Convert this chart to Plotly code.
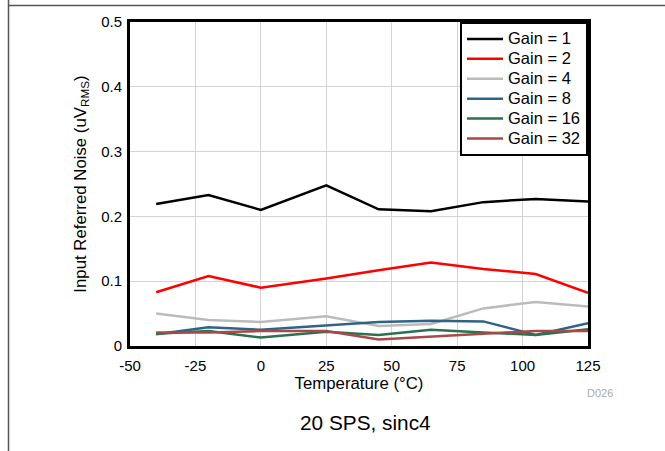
import plotly.graph_objects as go

temps = [-40, -20, 0, 25, 45, 65, 85, 105, 125]
gain1 = [0.219, 0.233, 0.210, 0.248, 0.211, 0.208, 0.222, 0.227, 0.223]
gain2 = [0.083, 0.108, 0.090, 0.104, 0.117, 0.129, 0.119, 0.111, 0.082]
gain4 = [0.050, 0.040, 0.037, 0.046, 0.031, 0.034, 0.058, 0.068, 0.061]
gain8 = [0.018, 0.029, 0.025, 0.032, 0.037, 0.039, 0.038, 0.017, 0.035]
gain16 = [0.019, 0.023, 0.013, 0.022, 0.017, 0.025, 0.021, 0.017, 0.026]
gain32 = [0.021, 0.021, 0.023, 0.023, 0.010, 0.015, 0.019, 0.023, 0.023]

x_ticks = [-50, -25, 0, 25, 50, 75, 100, 125]
x_ticktext = ["-50", "-25", "0", "25", "50", "75", "100", "125"]
y_ticks = [0, 0.1, 0.2, 0.3, 0.4, 0.5]
y_ticktext = ["0", "0.1", "0.2", "0.3", "0.4", "0.5"]

series = [
    ("Gain = 1", gain1, "#000000"),
    ("Gain = 2", gain2, "#FF0000"),
    ("Gain = 4", gain4, "#BBBBBB"),
    ("Gain = 8", gain8, "#2E6485"),
    ("Gain = 16", gain16, "#2D7050"),
    ("Gain = 32", gain32, "#A84848"),
]

FONT = "Liberation Sans, Arial, sans-serif"

fig = go.Figure()
for name, vals, color in series:
    fig.add_trace(go.Scatter(
        x=temps, y=vals, mode="lines",
        name="<span style='font-size:16.5px'>" + name + "</span>",
        line=dict(color=color, width=2.5)))

L, R, T, B = 130, 588, 22, 346
W, H = 665, 451

def px(x):
    return (x - L) / (R - L)

def py(y):
    return (B - y) / (B - T)

fig.update_layout(
    width=W, height=H,
    margin=dict(l=L, r=W - R, t=T, b=H - B),
    plot_bgcolor="white", paper_bgcolor="white",
    font=dict(family=FONT, size=15, color="#000000"),
    showlegend=True,
    legend=dict(x=1, y=1, xanchor="right", yanchor="top",
                bordercolor="#000000", borderwidth=2, bgcolor="white",
                font=dict(size=13, family=FONT), tracegroupgap=0,
                itemwidth=36),
    xaxis=dict(range=[-50, 125], tickvals=x_ticks, ticktext=x_ticktext,
               showgrid=True, gridcolor="#D3D3D3", gridwidth=1,
               showline=True, linecolor="#000000", linewidth=3, mirror=True,
               zeroline=False, ticks="", ticklabelstandoff=4,
               tickfont=dict(size=15),
               title=dict(text="Temperature (°C)", font=dict(size=16.8), standoff=0)),
    yaxis=dict(range=[0, 0.5], tickvals=y_ticks, ticktext=y_ticktext,
               showgrid=True, gridcolor="#D3D3D3", gridwidth=1,
               showline=True, linecolor="#000000", linewidth=3, mirror=True,
               zeroline=False, ticks="", ticklabelstandoff=2,
               tickfont=dict(size=15),
               title=dict(text="Input Referred Noise (uV<sub>RMS</sub>)",
                          font=dict(size=16.8), standoff=11)),
    shapes=[
        dict(type="line", xref="paper", yref="paper", x0=px(8.5), x1=px(8.5),
             y0=py(0), y1=py(451), line=dict(color="#555555", width=1.5)),
        dict(type="line", xref="paper", yref="paper", x0=px(8.5), x1=px(665),
             y0=py(5.5), y1=py(5.5), line=dict(color="#555555", width=1.5)),
    ],
    annotations=[
        dict(text="D026", xref="paper", yref="paper", x=px(600), y=py(393),
             xanchor="center", yanchor="middle",
             showarrow=False, font=dict(size=11, color="#AAAAAA", family=FONT)),
        dict(text="20 SPS, sinc4", xref="paper", yref="paper", x=px(365), y=py(422),
             xanchor="center", yanchor="middle",
             showarrow=False, font=dict(size=20.8, color="#000000", family=FONT)),
    ],
)

fig.write_html("out.html", config={"displayModeBar": False},
               post_script="document.body.style.margin='0';")
